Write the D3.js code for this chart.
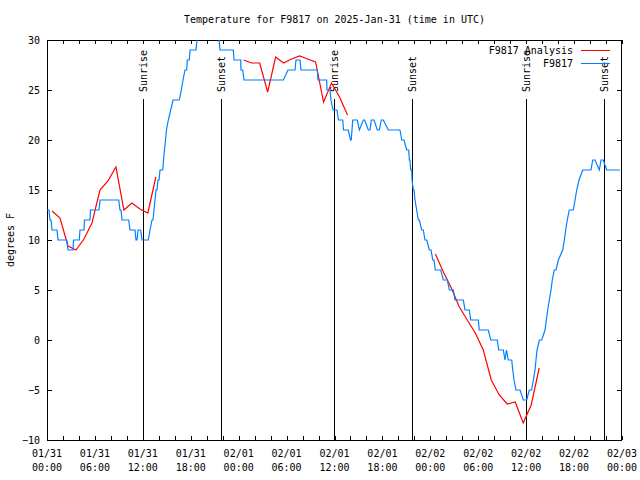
<!DOCTYPE html>
<html><head><meta charset="utf-8">
<script src="https://cdn.jsdelivr.net/npm/d3@7"></script>
<style>
body{margin:0;background:#fff;}
svg text{font-family:"DejaVu Sans Mono","Liberation Mono",monospace;font-size:10px;fill:#000;}
</style></head><body>
<svg id="c" width="640" height="480"></svg>
<script>
// hours since 2025-01-31 00:00 UTC
const obsHours = [0.00,0.25,0.38,0.50,0.63,1.25,1.38,2.47,2.63,3.26,3.32,4.04,4.13,4.63,4.70,5.38,5.45,6.51,6.64,8.98,9.14,9.27,9.39,10.23,10.39,11.02,11.14,11.27,11.40,11.73,11.90,12.68,12.90,13.15,13.27,13.40,13.52,13.65,13.77,13.90,14.03,14.15,14.49,14.59,14.71,14.84,14.96,15.19,15.49,15.78,16.57,16.82,17.03,17.28,17.49,17.57,17.82,17.91,18.66,18.78,18.97,21.29,21.54,21.66,23.33,23.42,24.26,24.29,24.51,24.67,29.59,30.18,31.05,31.18,31.68,31.81,33.85,33.93,35.02,35.06,35.44,35.56,35.81,36.31,36.50,37.03,37.13,37.73,38.00,38.10,38.28,38.86,39.11,39.61,39.78,40.23,40.45,40.61,40.95,41.36,41.61,41.86,42.11,42.74,44.20,44.42,44.70,45.04,45.29,45.37,45.45,45.54,45.67,45.71,45.87,45.96,46.08,46.29,46.50,46.62,46.92,47.12,47.33,47.55,47.87,48.09,48.30,48.46,48.62,49.30,49.62,50.13,50.38,50.88,51.09,52.13,52.34,52.88,53.06,54.01,54.13,55.26,55.56,56.39,56.56,57.14,57.35,57.54,57.76,58.19,58.32,58.48,58.73,59.23,59.64,60.07,60.39,60.69,60.90,61.11,61.23,61.36,61.65,61.95,62.36,62.52,62.70,62.90,63.11,63.27,63.52,63.74,64.03,64.58,64.78,64.95,65.15,65.40,65.90,66.12,66.33,66.62,67.08,68.12,68.33,68.62,69.16,69.37,69.66,69.87,70.09,71.75];
const obsTemps = [13,13,12,12,11,11,10,10,9,9,10,10,11,11,12,12,13,13,14,14,13,13,12,12,11,11,10,10,11,11,10,10,11,12,12,13,14,15,15,16,16,17,17,18,19,20,21,22,23,24,24,25,26,27,27,28,28,29,29,30,31,31,30,29,29,28,28,27,27,26,26,27,27,28,28,27,27,26,26,25,25,24,23,23,22,22,21,21,20,20,22,22,21,22,22,21,21,22,22,21,21,22,22,21,21,20,20,19,19,18,18,17,17,16,15,15,14,13,12,12,11,11,10,10,9,9,8,8,7,7,6,6,5,5,4,4,3,3,2,2,1,1,0,0,-1,-1,-2,-1,-2,-2,-3,-4,-5,-5,-6,-6,-5,-5,-4,-3,-2,-1,0,0,1,2,3,4,5,6,7,7,8,9,10,11,12,13,13,14,15,16,17,17,18,18,17,18,18,17.5,17,17];
const anaHours = [0.63,1.63,2.63,3.63,4.63,5.63,6.63,7.63,8.63,9.63,10.63,11.63,12.63,13.63,null,
  24.63,25.63,26.63,27.63,28.63,29.63,30.63,31.63,32.63,33.63,34.63,35.63,36.63,37.63,null,
  48.63,49.63,50.63,51.63,52.63,53.63,54.63,55.63,56.63,57.63,58.63,59.63,60.63,61.63];
const anaTemps = [12.9,12.2,9.4,9.0,10.1,11.7,15.0,15.9,17.3,13.0,13.7,13.1,12.7,16.3,null,
  28.0,27.7,27.7,24.8,28.3,27.7,28.1,28.4,28.1,27.8,23.8,25.7,24.3,22.5,null,
  8.6,6.8,5.2,3.3,2.0,0.7,-1.0,-4.0,-5.5,-6.4,-6.2,-8.3,-6.5,-2.8];
const sunHours = [12.03,21.75,35.97,45.75,60.0,69.8];
const sunNames = ["Sunrise","Sunset","Sunrise","Sunset","Sunrise","Sunset"];
const xTickHours = [0,6,12,18,24,30,36,42,48,54,60,66,72];
const xTickDates = ["01/31","01/31","01/31","01/31","02/01","02/01","02/01","02/01","02/02","02/02","02/02","02/02","02/03"];
const xTickTimes = ["00:00","06:00","12:00","18:00","00:00","06:00","12:00","18:00","00:00","06:00","12:00","18:00","00:00"];
const yTicks = [-10,-5,0,5,10,15,20,25,30];
const seriesNames = ["F9817 Analysis","F9817"];
const seriesColors = ["#ff0000","#0080ff"];
const titleText = "Temperature for F9817 on 2025-Jan-31 (time in UTC)";
const yLabel = "degrees F";

const L=47,R=622,T=40,B=440;
const svg=d3.select("#c");
const x=d3.scaleLinear().domain([0,72]).range([L,R]);
const y=d3.scaleLinear().domain([-10,30]).range([B,T]);

svg.append("defs").append("clipPath").attr("id","clip").append("rect")
  .attr("x",L).attr("y",T).attr("width",R-L).attr("height",B-T);

// title
svg.append("text").attr("x",(L+R)/2).attr("y",23).attr("text-anchor","middle").text(titleText);
svg.append("text").attr("transform","translate(14,240) rotate(-90)").attr("text-anchor","middle").text(yLabel);

// axes
const minor=d3.range(0,73,2);
const gb=svg.append("g").attr("transform",`translate(0,${B})`)
  .call(d3.axisBottom(x).tickValues(minor).tickSize(-4).tickFormat(""));
const gt=svg.append("g").attr("transform",`translate(0,${T})`)
  .call(d3.axisTop(x).tickValues(minor).tickSize(-4).tickFormat(""));
const gl=svg.append("g").attr("transform",`translate(${L},0)`)
  .call(d3.axisLeft(y).tickValues(yTicks).tickSize(-5).tickPadding(8).tickFormat(d3.format("d")));
const gr=svg.append("g").attr("transform",`translate(${R},0)`)
  .call(d3.axisRight(y).tickValues(yTicks).tickSize(-5).tickFormat(""));
[gb,gt,gl,gr].forEach(g=>{g.select(".domain").remove();g.selectAll("line").attr("stroke","#000").attr("shape-rendering","crispEdges");
  g.selectAll("text").attr("font-family",null).attr("font-size",null);});
gl.selectAll("text").attr("x",-7);
svg.append("rect").attr("x",L+0.5).attr("y",T+0.5).attr("width",R-L-1).attr("height",B-T)
  .attr("fill","none").attr("stroke","#000").attr("shape-rendering","crispEdges");

// x labels
const xl=svg.append("g");
xTickHours.forEach((h,i)=>{
  const t=xl.append("text").attr("x",x(h)).attr("text-anchor","middle");
  t.append("tspan").attr("x",x(h)).attr("y",457).text(xTickDates[i]);
  t.append("tspan").attr("x",x(h)).attr("y",471).text(xTickTimes[i]);
});

// sunrise / sunset
sunHours.forEach((h,i)=>{
  svg.append("line").attr("x1",Math.round(x(h))+0.5).attr("x2",Math.round(x(h))+0.5)
    .attr("y1",99).attr("y2",B).attr("stroke","#000").attr("shape-rendering","crispEdges");
  svg.append("text").attr("transform",`translate(${x(h)+4},92) rotate(-90)`).text(sunNames[i]);
});

// legend
[0,1].forEach(i=>{
  const yy=50+13*i;
  svg.append("text").attr("x",573).attr("y",yy+4).attr("text-anchor","end").text(seriesNames[i]);
  svg.append("line").attr("x1",581).attr("x2",610).attr("y1",yy+0.5).attr("y2",yy+0.5)
    .attr("stroke",seriesColors[i]).attr("stroke-width",1).attr("shape-rendering","crispEdges");
});

const plot=svg.append("g").attr("clip-path","url(#clip)");
const lineGen=d3.line().defined(d=>d[1]!==null).x(d=>x(d[0])).y(d=>y(d[1]));
plot.append("path").datum(anaHours.map((h,i)=>[h,anaTemps[i]]))
  .attr("d",lineGen).attr("fill","none").attr("stroke",seriesColors[0]).attr("stroke-width",1.2);
plot.append("path").datum(obsHours.map((h,i)=>[h,obsTemps[i]]))
  .attr("d",lineGen).attr("fill","none").attr("stroke",seriesColors[1]).attr("stroke-width",1.2);
</script></body></html>
